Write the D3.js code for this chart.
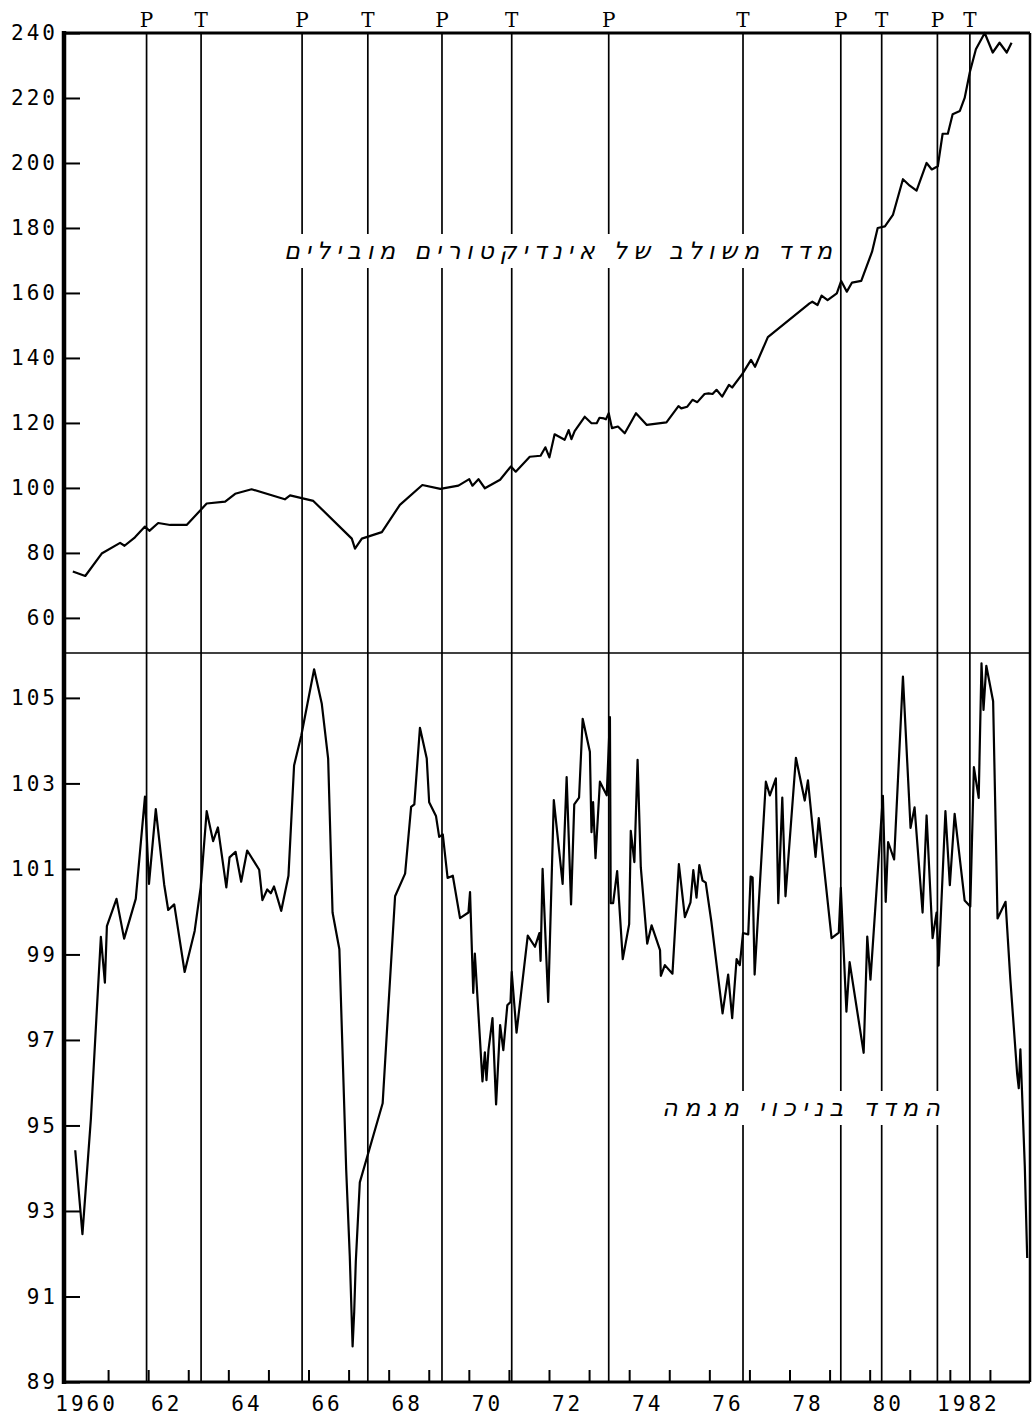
<!DOCTYPE html>
<html>
<head>
<meta charset="utf-8">
<script src="https://cdn.jsdelivr.net/npm/d3@7"></script>
<style>
  html, body { margin: 0; padding: 0; background: #fff; }
  svg { display: block; }
</style>
</head>
<body>
<svg id="chart" width="1033" height="1416"></svg>
<script>
// Composite index of leading indicators (upper panel), decimal years and index values
const compositeDates = [
  1960.12, 1960.43, 1960.84, 1961.30, 1961.41, 1961.67, 1961.92, 1962.03, 1962.25, 1962.55,
  1962.96, 1963.46, 1963.92, 1964.17, 1964.58, 1965.41, 1965.54, 1966.12, 1967.08, 1967.16,
  1967.33, 1967.83, 1968.28, 1968.84, 1969.29, 1969.74, 1970.01, 1970.09, 1970.24, 1970.40,
  1970.78, 1971.05, 1971.17, 1971.52, 1971.79, 1971.91, 1972.01, 1972.14, 1972.39, 1972.49,
  1972.56, 1972.64, 1972.89, 1973.06, 1973.19, 1973.26, 1973.37, 1973.42, 1973.49, 1973.57,
  1973.72, 1973.89, 1974.17, 1974.44, 1974.93, 1975.23, 1975.30, 1975.45, 1975.58, 1975.70,
  1975.88, 1975.98, 1976.08, 1976.18, 1976.32, 1976.49, 1976.57, 1976.82, 1977.04, 1977.14,
  1977.46, 1978.50, 1978.57, 1978.70, 1978.80, 1978.95, 1979.18, 1979.29, 1979.43, 1979.56,
  1979.79, 1980.06, 1980.20, 1980.38, 1980.58, 1980.83, 1981.00, 1981.17, 1981.42, 1981.55,
  1981.70, 1981.82, 1981.95, 1982.07, 1982.25, 1982.37, 1982.50, 1982.65, 1982.87, 1983.07,
  1983.24, 1983.42, 1983.54
];
const compositeValues = [
  74.3, 72.9, 79.8, 83.1, 82.2, 84.8, 88.1, 86.8, 89.2, 88.6,
  88.6, 95.2, 95.8, 98.2, 99.6, 96.5, 97.7, 96.0, 84.4, 81.3,
  84.4, 86.4, 94.8, 100.9, 99.7, 100.7, 102.7, 100.7, 102.7, 99.9,
  102.5, 106.6, 105.0, 109.6, 109.9, 112.5, 109.4, 116.5, 114.8, 117.8,
  115.0, 117.5, 121.9, 119.9, 119.9, 121.6, 121.4, 121.1, 123.0, 118.4,
  118.9, 116.8, 123.0, 119.4, 120.2, 125.2, 124.5, 125.0, 127.1, 126.4,
  128.9, 129.1, 128.9, 130.2, 128.1, 131.7, 130.9, 135.0, 139.4, 137.3,
  146.4, 156.8, 157.3, 156.3, 159.2, 157.8, 159.9, 163.7, 160.4, 163.2,
  163.7, 172.7, 180.0, 180.5, 184.0, 195.0, 193.0, 191.5, 200.0, 198.0,
  199.0, 209.0, 209.0, 215.0, 216.0, 220.0, 228.0, 235.0, 240.0, 234.0,
  237.0, 234.0, 237.0
];

// Detrended index (lower panel)
const detrendedDates = [
  1960.18, 1960.36, 1960.57, 1960.73, 1960.82, 1960.92, 1960.97, 1961.21, 1961.40, 1961.69,
  1961.92, 1962.02, 1962.19, 1962.40, 1962.50, 1962.65, 1962.91, 1963.16, 1963.31, 1963.46,
  1963.62, 1963.74, 1963.95, 1964.03, 1964.18, 1964.32, 1964.47, 1964.77, 1964.85, 1964.97,
  1965.06, 1965.14, 1965.32, 1965.50, 1965.64, 1965.82, 1966.14, 1966.33, 1966.49, 1966.60,
  1966.77, 1966.94, 1967.03, 1967.10, 1967.14, 1967.18, 1967.28, 1967.85, 1967.99, 1968.16,
  1968.41, 1968.56, 1968.64, 1968.78, 1968.95, 1969.01, 1969.18, 1969.26, 1969.35, 1969.47,
  1969.60, 1969.78, 1969.99, 1970.03, 1970.11, 1970.15, 1970.34, 1970.40, 1970.44, 1970.49,
  1970.59, 1970.68, 1970.78, 1970.86, 1970.96, 1971.04, 1971.07, 1971.19, 1971.47, 1971.65,
  1971.76, 1971.79, 1971.84, 1971.98, 1972.12, 1972.34, 1972.44, 1972.55, 1972.63, 1972.75,
  1972.84, 1973.02, 1973.06, 1973.10, 1973.16, 1973.27, 1973.44, 1973.52, 1973.54, 1973.60,
  1973.70, 1973.84, 1974.00, 1974.04, 1974.13, 1974.21, 1974.29, 1974.45, 1974.56, 1974.77,
  1974.79, 1974.89, 1975.08, 1975.24, 1975.39, 1975.53, 1975.60, 1975.68, 1975.75, 1975.83,
  1975.91, 1976.05, 1976.33, 1976.47, 1976.57, 1976.68, 1976.76, 1976.84, 1976.97, 1977.03,
  1977.08, 1977.13, 1977.41, 1977.51, 1977.66, 1977.72, 1977.82, 1977.90, 1978.16, 1978.38,
  1978.46, 1978.65, 1978.73, 1979.05, 1979.23, 1979.28, 1979.42, 1979.50, 1979.85, 1979.94,
  1980.02, 1980.33, 1980.40, 1980.46, 1980.61, 1980.83, 1981.02, 1981.12, 1981.32, 1981.42,
  1981.57, 1981.67, 1981.72, 1981.89, 1982.00, 1982.12, 1982.37, 1982.51, 1982.60, 1982.72,
  1982.79, 1982.84, 1982.91, 1983.08, 1983.19, 1983.39, 1983.51, 1983.68, 1983.72, 1983.76,
  1983.80, 1983.87, 1983.93
];
const detrendedValues = [
  94.42, 92.46, 95.15, 97.89, 99.41, 98.34, 99.66, 100.30, 99.37, 100.30,
  102.69, 100.65, 102.40, 100.63, 100.04, 100.17, 98.59, 99.55, 100.57, 102.35,
  101.65, 101.97, 100.57, 101.27, 101.40, 100.70, 101.43, 100.98, 100.27, 100.52,
  100.43, 100.59, 100.02, 100.84, 103.42, 104.12, 105.67, 104.87, 103.58, 99.98,
  99.12, 93.97, 91.93, 89.83, 90.64, 91.82, 93.67, 95.52, 97.73, 100.36,
  100.89, 102.45, 102.51, 104.30, 103.58, 102.56, 102.24, 101.75, 101.81, 100.79,
  100.84, 99.85, 99.98, 100.46, 98.10, 99.02, 96.03, 96.71, 96.06, 96.76,
  97.51, 95.49, 97.35, 96.76, 97.81, 97.89, 98.59, 97.17, 99.44, 99.18,
  99.50, 98.85, 101.00, 97.89, 102.61, 100.65, 103.15, 100.17, 102.51, 102.67,
  104.51, 103.74, 101.86, 102.56, 101.25, 103.04, 102.72, 104.55, 100.20, 100.20,
  100.95, 98.89, 99.71, 101.89, 101.16, 103.55, 101.04, 99.25, 99.68, 99.10,
  98.50, 98.75, 98.55, 101.11, 99.87, 100.22, 100.97, 100.33, 101.09, 100.73,
  100.68, 99.77, 97.62, 98.53, 97.51, 98.89, 98.75, 99.50, 99.47, 100.82,
  100.80, 98.53, 103.04, 102.72, 103.12, 100.20, 102.67, 100.36, 103.60, 102.60,
  103.07, 101.28, 102.19, 99.38, 99.51, 100.56, 97.66, 98.82, 96.70, 99.42,
  98.41, 102.71, 100.23, 101.63, 101.22, 105.50, 101.96, 102.44, 99.98, 102.25,
  99.38, 99.98, 98.74, 102.35, 100.62, 102.29, 100.26, 100.12, 103.38, 102.66,
  105.81, 104.72, 105.75, 104.92, 99.84, 100.23, 98.41, 96.20, 95.87, 96.78,
  95.81, 94.05, 91.90
];

// Business-cycle turning points: peaks (P) and troughs (T)
const turningDates  = [1961.96, 1963.32, 1965.84, 1967.48, 1969.33, 1971.07, 1973.49, 1976.84, 1979.28, 1980.30, 1981.69, 1982.50];
const turningLabels = ["P", "T", "P", "T", "P", "T", "P", "T", "P", "T", "P", "T"];

// Axis ticks and labels
const topTicks = [60, 80, 100, 120, 140, 160, 180, 200, 220, 240];
const bottomTicks = [89, 91, 93, 95, 97, 99, 101, 103, 105];
const yearTicks = d3.range(1961, 1984);
const yearLabelYears = [1960, 1962, 1964, 1966, 1968, 1970, 1972, 1974, 1976, 1978, 1980, 1982];
const yearLabels = ["1960", "62", "64", "66", "68", "70", "72", "74", "76", "78", "80", "1982"];

const compositeTitle = "מדד משולב של אינדיקטורים מובילים";
const detrendedTitle = "המדד בניכוי מגמה";

// ---- layout ----
const plotLeft = 64, plotRight = 1030, plotTop = 33, plotMid = 653, plotBottom = 1382;
const svg = d3.select("#chart");

const x = d3.scaleLinear().domain([1959.9, 1984.0]).range([plotLeft, plotRight]);
const yTop = d3.scaleLinear().domain([49.2, 240]).range([plotMid, plotTop]);
const yBot = d3.scaleLinear().domain([89, 106.05]).range([plotBottom, plotMid]);

const numFont = "'DejaVu Sans Mono', monospace";

// turning-point verticals across both panels
svg.append("g").selectAll("line").data(turningDates).join("line")
  .attr("x1", d => x(d)).attr("x2", d => x(d))
  .attr("y1", plotTop).attr("y2", plotBottom)
  .attr("stroke", "#000").attr("stroke-width", 1.7);

svg.append("g").selectAll("text").data(turningDates).join("text")
  .attr("x", d => x(d)).attr("y", 27)
  .attr("text-anchor", "middle")
  .attr("font-family", "'DejaVu Serif', serif")
  .attr("font-size", 20)
  .text((d, i) => turningLabels[i]);

// panel titles on white patches that interrupt the verticals
function title(txt, x0, x1, yc, fs) {
  svg.append("rect").attr("x", x0 - 3).attr("y", yc - 17).attr("width", x1 - x0 + 6).attr("height", 34).attr("fill", "#fff");
  svg.append("text")
    .attr("x", x1).attr("y", yc + fs * 0.33)
    .attr("direction", "rtl")
    .attr("text-anchor", "start")
    .attr("font-family", "'DejaVu Sans', sans-serif")
    .attr("font-style", "italic")
    .attr("font-size", fs)
    .attr("textLength", x1 - x0)
    .attr("lengthAdjust", "spacing")
    .text(txt);
}
title(compositeTitle, 284, 832, 251, 24);
title(detrendedTitle, 662, 940, 1108, 24);

// series
const lineTop = d3.line().x(d => x(d[0])).y(d => yTop(d[1]));
const lineBot = d3.line().x(d => x(d[0])).y(d => yBot(d[1]));

svg.append("path")
  .datum(compositeDates.map((d, i) => [d, compositeValues[i]]))
  .attr("d", lineTop).attr("fill", "none").attr("stroke", "#000")
  .attr("stroke-width", 2.2).attr("stroke-linejoin", "round");

svg.append("path")
  .datum(detrendedDates.map((d, i) => [d, detrendedValues[i]]))
  .attr("d", lineBot).attr("fill", "none").attr("stroke", "#000")
  .attr("stroke-width", 2.2).attr("stroke-linejoin", "round");

// frame
svg.append("line").attr("x1", plotLeft).attr("x2", plotRight).attr("y1", plotTop).attr("y2", plotTop).attr("stroke", "#000").attr("stroke-width", 3);
svg.append("line").attr("x1", plotLeft).attr("x2", plotRight).attr("y1", plotMid).attr("y2", plotMid).attr("stroke", "#000").attr("stroke-width", 1.6);
svg.append("line").attr("x1", plotLeft).attr("x2", plotRight).attr("y1", plotBottom).attr("y2", plotBottom).attr("stroke", "#000").attr("stroke-width", 3);
svg.append("line").attr("x1", plotRight).attr("x2", plotRight).attr("y1", plotTop).attr("y2", plotBottom).attr("stroke", "#000").attr("stroke-width", 2.5);
svg.append("line").attr("x1", plotLeft).attr("x2", plotLeft).attr("y1", plotTop - 2).attr("y2", plotBottom + 2).attr("stroke", "#000").attr("stroke-width", 4.5);

// axes
function styleAxis(g) {
  g.select(".domain").remove();
  g.selectAll(".tick line").attr("stroke", "#000").attr("stroke-width", 2);
  g.selectAll(".tick text")
    .attr("fill", "#000")
    .attr("font-family", numFont)
    .attr("font-size", 21)
    .attr("letter-spacing", 3);
}

svg.append("g").attr("transform", `translate(${plotLeft},0)`)
  .call(d3.axisLeft(yTop).tickValues(topTicks).tickSize(-16).tickPadding(6).tickFormat(d3.format("d")))
  .call(styleAxis);

svg.append("g").attr("transform", `translate(${plotLeft},0)`)
  .call(d3.axisLeft(yBot).tickValues(bottomTicks).tickSize(-16).tickPadding(6).tickFormat(d3.format("d")))
  .call(styleAxis);

svg.append("g").attr("transform", `translate(0,${plotBottom})`)
  .call(d3.axisBottom(x).tickValues(yearTicks).tickSize(-12).tickFormat(""))
  .call(styleAxis);

svg.append("g").attr("transform", `translate(0,${plotBottom})`)
  .call(d3.axisBottom(x).tickValues(yearLabelYears.map(d => d + 0.45)).tickSize(0).tickPadding(14)
    .tickFormat((d, i) => yearLabels[i]))
  .call(styleAxis);
</script>
</body>
</html>
